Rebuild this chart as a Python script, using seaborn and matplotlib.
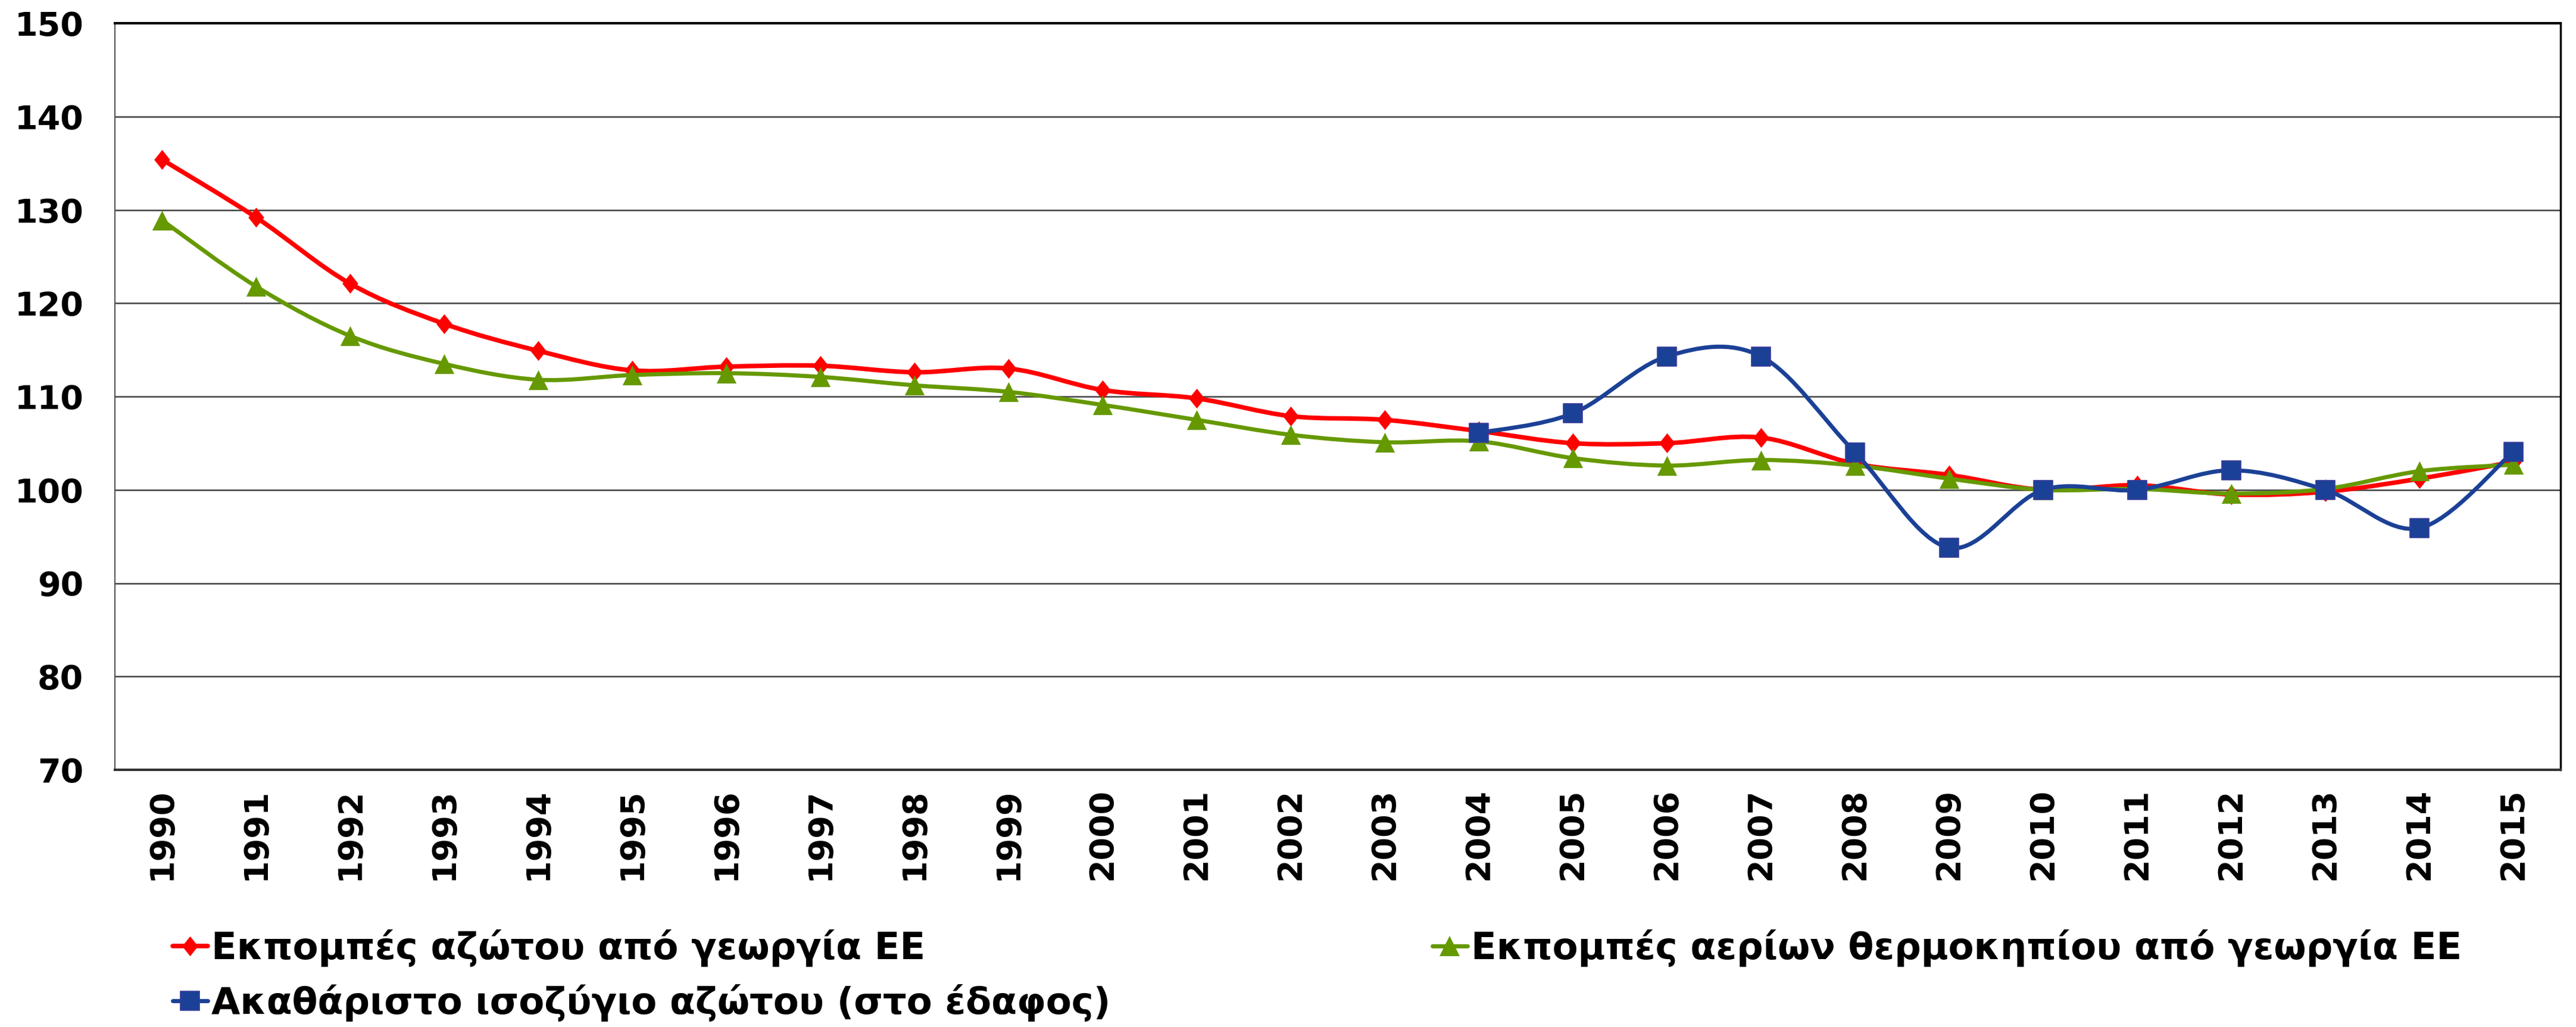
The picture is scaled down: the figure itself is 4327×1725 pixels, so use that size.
import numpy as np
import matplotlib
matplotlib.use("Agg")
import matplotlib.pyplot as plt
from matplotlib.path import Path
from matplotlib.patches import PathPatch
from matplotlib.lines import Line2D
import seaborn as sns

# values (index, 2010 = 100)
years = list(range(1990, 2016))
nitrogen_emissions = [135.4, 129.2, 122.1, 117.8, 114.9, 112.8, 113.2, 113.3, 112.6, 113.0,
                      110.7, 109.8, 107.9, 107.5, 106.3, 105.0, 105.0, 105.6, 102.8, 101.6,
                      100.0, 100.5, 99.5, 99.8, 101.2, 103.0]
ghg_emissions = [128.9, 121.8, 116.5, 113.5, 111.8, 112.3, 112.5, 112.1, 111.2, 110.5,
                 109.1, 107.5, 105.9, 105.1, 105.2, 103.4, 102.6, 103.2, 102.6, 101.2,
                 100.0, 100.1, 99.6, 100.1, 102.0, 102.7]
balance_years = list(range(2004, 2016))
nitrogen_balance = [106.1, 108.2, 114.3, 114.3, 104.0, 93.8, 100.0, 100.0, 102.1, 100.0, 95.9, 104.1]

label_nitrogen = "Εκπομπές αζώτου από γεωργία ΕΕ"
label_ghg = "Εκπομπές αερίων θερμοκηπίου από γεωργία ΕΕ"
label_balance = "Ακαθάριστο ισοζύγιο αζώτου (στο έδαφος)"

RED = "#FF0000"
GREEN = "#669900"
BLUE = "#1B4196"
SQ_EDGE = "#3A3A9A"
# slightly narrow diamond, like the Excel marker
DIAMOND = [(0, 1), (0.8, 0), (0, -1), (-0.8, 0), (0, 1)]


def smooth_path(x, y):
    """Excel-style smoothed line: cubic bezier segments through every point."""
    pts = np.column_stack([np.asarray(x, float), np.asarray(y, float)])
    n = len(pts)
    verts = [pts[0]]
    codes = [Path.MOVETO]
    for i in range(n - 1):
        p0 = pts[i - 1] if i > 0 else pts[i]
        p1, p2 = pts[i], pts[i + 1]
        p3 = pts[i + 2] if i + 2 < n else pts[i + 1]
        verts += [p1 + (p2 - p0) / 6, p2 - (p3 - p1) / 6, p2]
        codes += [Path.CURVE4] * 3
    return Path(verts, codes)


sns.set_style("white")
plt.rcParams['font.family'] = ['DejaVu Sans']
plt.rcParams['font.weight'] = 'bold'
plt.rcParams['text.color'] = 'black'

fig = plt.figure(figsize=(43.27, 17.25), dpi=100)
ax = fig.add_axes([0.0446, 0.2504, 0.9494, 0.727])

xpos = np.arange(len(years))
bpos = np.array([years.index(y) for y in balance_years])

series = [
    (xpos, nitrogen_emissions, RED, 5.5, DIAMOND, 24, RED, 0),
    (xpos, ghg_emissions, GREEN, 5.0, "^", 24, GREEN, 0),
    (bpos, nitrogen_balance, BLUE, 5.0, "s", 23, SQ_EDGE, 1.2),
]
for i, (xs, ys, col, lw, mk, ms, ec, ew) in enumerate(series):
    ax.add_patch(PathPatch(smooth_path(xs, ys), facecolor="none", edgecolor=col,
                           lw=lw, capstyle="round", joinstyle="round", zorder=3 + 2 * i))
    sns.scatterplot(x=xs, y=ys, marker=mk, s=ms ** 2, color=col, edgecolor=ec,
                    linewidth=ew, ax=ax, zorder=4 + 2 * i, legend=False)

ax.set_xlim(-0.5, len(years) - 0.5)
ax.set_ylim(70, 150)
ax.set_yticks(np.arange(70, 151, 10))
ax.set_xticks(xpos)
ax.set_xticklabels([str(y) for y in years])
ax.set_xticks(np.arange(-0.5, len(years), 1), minor=True)

ax.tick_params(axis="x", which="major", length=0, pad=22, labelsize=40,
               labelrotation=90, labelcolor="black")
ax.tick_params(axis="x", which="minor", length=14, width=1.5, color="#555555", direction="out")
ax.tick_params(axis="y", length=0, pad=38, labelsize=40, labelcolor="black")
for t in ax.get_xticklabels() + ax.get_yticklabels():
    t.set_fontweight("bold")
ax.yaxis.grid(True, color="#404040", lw=1.8)
ax.set_axisbelow(True)

ax.spines["left"].set_color("#555555")
ax.spines["left"].set_linewidth(1.5)
ax.spines["bottom"].set_color("#333333")
ax.spines["bottom"].set_linewidth(3)
ax.spines["top"].set_color("black")
ax.spines["top"].set_linewidth(3)
ax.spines["right"].set_color("black")
ax.spines["right"].set_linewidth(2.5)

h_nitro = Line2D([], [], color=RED, lw=5.5, marker=DIAMOND, markersize=24, markeredgewidth=0,
                 solid_capstyle="round")
h_balance = Line2D([], [], color=BLUE, lw=5, marker="s", markersize=23,
                   markeredgecolor=SQ_EDGE, markeredgewidth=1.2, solid_capstyle="round")
h_ghg = Line2D([], [], color=GREEN, lw=5, marker="^", markersize=24, markeredgewidth=0,
               solid_capstyle="round")

leg_kw = dict(loc="upper left", frameon=False, prop={"size": 45, "weight": "bold"},
              handlelength=0.94, handletextpad=0.1, labelspacing=0.47,
              borderpad=0, borderaxespad=0)
fig.legend([h_nitro, h_balance], [label_nitrogen, label_balance],
           bbox_to_anchor=(0.067, 0.0951), **leg_kw)
fig.legend([h_ghg], [label_ghg], bbox_to_anchor=(0.556, 0.0951), **leg_kw)

fig.savefig("out.png", dpi=100)
